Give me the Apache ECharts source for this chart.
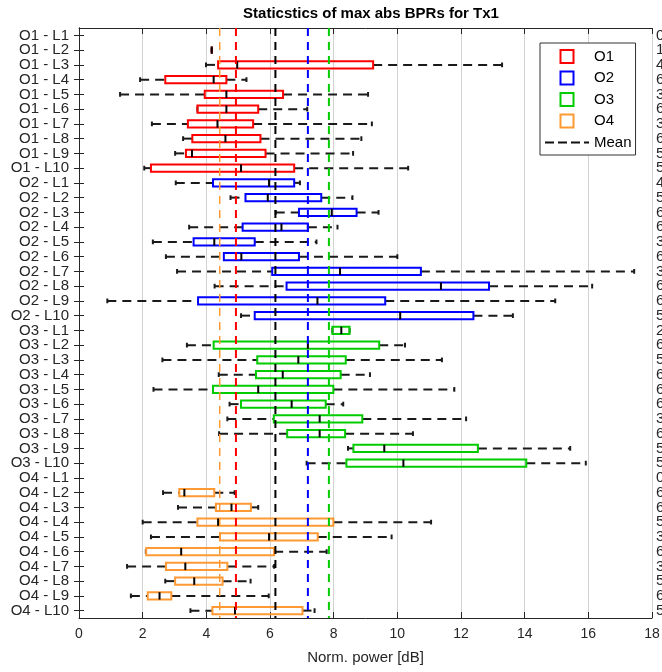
<!DOCTYPE html>
<html><head><meta charset="utf-8">
<script src="https://cdn.jsdelivr.net/npm/echarts@6/dist/echarts.min.js"></script>
<style>html,body{margin:0;padding:0;background:#fff}#c{width:662px;height:672px}</style>
</head><body><div id="c"></div>
<script>
// ---------------- data ----------------
const categories = [
  'O1 - L1','O1 - L2','O1 - L3','O1 - L4','O1 - L5','O1 - L6','O1 - L7','O1 - L8','O1 - L9','O1 - L10',
  'O2 - L1','O2 - L2','O2 - L3','O2 - L4','O2 - L5','O2 - L6','O2 - L7','O2 - L8','O2 - L9','O2 - L10',
  'O3 - L1','O3 - L2','O3 - L3','O3 - L4','O3 - L5','O3 - L6','O3 - L7','O3 - L8','O3 - L9','O3 - L10',
  'O4 - L1','O4 - L2','O4 - L3','O4 - L4','O4 - L5','O4 - L6','O4 - L7','O4 - L8','O4 - L9','O4 - L10'
];
const countLabels = [
  '0','1','4','6','3','6','3','6','5','5',
  '4','5','6','6','3','6','3','6','6','5',
  '2','6','5','6','6','6','3','6','5','5',
  '0','6','6','5','3','6','3','5','6','5'
];
const groupNames = ['O1','O2','O3','O4'];
// [whisker low, q1, median, q3, whisker high]
const o1Stats = [
  null,
  [4.17,4.17,4.17,4.17,4.17],
  [3.99,4.37,4.97,9.24,13.29],
  [1.92,2.71,4.23,4.63,5.26],
  [1.29,3.95,4.63,6.41,9.08],
  [3.72,3.72,4.63,5.63,7.17],
  [2.29,3.42,4.35,5.47,9.20],
  [3.27,3.56,4.60,5.70,8.87],
  [3.02,3.36,3.55,5.86,8.61],
  [2.05,2.26,5.09,6.76,10.34]
];
const o2Stats = [
  [3.04,4.21,5.97,6.76,6.94],
  [4.76,5.23,5.93,7.61,8.59],
  [6.18,6.91,7.94,8.72,9.41],
  [3.46,5.14,6.36,7.19,8.12],
  [2.32,3.60,4.25,5.52,7.46],
  [2.73,4.55,5.10,6.91,10.00],
  [3.08,6.07,8.20,10.74,17.44],
  [4.26,6.52,11.37,12.88,16.12],
  [0.89,3.74,7.49,9.62,14.96],
  [5.09,5.52,10.09,12.39,13.63]
];
const o3Stats = [
  [7.96,7.96,8.24,8.50,8.50],
  [3.39,4.23,7.19,9.43,10.24],
  [2.62,5.60,6.89,8.38,11.40],
  [4.39,5.56,6.40,8.22,9.14],
  [2.34,4.21,5.63,7.99,11.79],
  [4.73,5.09,6.68,7.75,8.30],
  [4.66,6.12,7.56,8.90,12.16],
  [4.40,6.54,7.56,8.36,10.49],
  [8.45,8.62,9.59,12.53,15.43],
  [7.15,8.40,10.19,14.05,15.92]
];
const o4Stats = [
  null,
  [2.64,3.15,3.31,4.25,4.89],
  [3.11,4.30,4.79,5.40,5.63],
  [2.00,3.72,4.37,7.99,11.06],
  [2.26,4.43,5.97,7.50,9.82],
  [2.10,2.11,3.21,6.13,7.78],
  [1.51,2.73,3.34,4.66,6.13],
  [2.71,3.02,3.62,4.51,5.39],
  [1.63,2.16,2.53,2.90,5.96],
  [3.50,4.19,4.90,7.02,7.40]
];
const groupMeans = [4.93, 7.19, 7.85, 4.42];
const overallMean = 6.17;
const xMin = 0, xMax = 18, xInterval = 2;

// ---------------- style ----------------
const groupColors = ['#ff0000', '#0000ff', '#00cc00', '#ff9933'];
const meanColors = ['#ff0000', '#0000ff', '#00cc00', '#ff9933', '#000000'];
const meanWidths = [2, 2, 2, 1.5, 2];
const FONT = '"Liberation Sans", Arial, Helvetica, sans-serif';
const AX = '#262626';

const allStats = [o1Stats, o2Stats, o3Stats, o4Stats];

function buildBoxData(stats, offset) {
  const out = [];
  stats.forEach((s, i) => { if (s) out.push([offset + i].concat(s)); });
  return out;
}

function boxRenderer(color) {
  return function (params, api) {
    const cat = api.value(0);
    const vals = [1, 2, 3, 4, 5].map(d => api.value(d));
    const pts = vals.map(v => api.coord([v, cat]));
    const band = api.size([0, 1])[1];
    const h = band * 0.5;
    const cap = band * 0.32;
    const y = pts[0][1];
    const [pLo, pQ1, pMed, pQ3, pHi] = pts.map(p => p[0]);
    const ch = [];
    const wStyle = { stroke: '#1a1a1a', lineWidth: 2, lineDash: [9, 6] };
    if (pQ1 - pLo > 0.5) ch.push({ type: 'line', shape: { x1: pLo, y1: y, x2: pQ1, y2: y }, style: wStyle });
    if (pHi - pQ3 > 0.5) ch.push({ type: 'line', shape: { x1: pQ3, y1: y, x2: pHi, y2: y }, style: wStyle });
    ch.push({ type: 'line', shape: { x1: pLo, y1: y - cap / 2, x2: pLo, y2: y + cap / 2 }, style: { stroke: '#1a1a1a', lineWidth: 2 } });
    ch.push({ type: 'line', shape: { x1: pHi, y1: y - cap / 2, x2: pHi, y2: y + cap / 2 }, style: { stroke: '#1a1a1a', lineWidth: 2 } });
    ch.push({ type: 'rect', shape: { x: pQ1, y: y - h / 2, width: pQ3 - pQ1, height: h },
      style: { fill: 'none', stroke: color, lineWidth: 2 } });
    ch.push({ type: 'line', shape: { x1: pMed, y1: y - h / 2, x2: pMed, y2: y + h / 2 },
      style: { stroke: '#000', lineWidth: 2 } });
    return { type: 'group', children: ch };
  };
}

function meanRenderer(params, api) {
  const x = api.coord([api.value(0), 0])[0];
  const idx = api.value(2);
  const cs = params.coordSys;
  return {
    type: 'line',
    shape: { x1: x, y1: cs.y, x2: x, y2: cs.y + cs.height },
    style: { stroke: meanColors[idx], lineWidth: meanWidths[idx], lineDash: [8, 6] }
  };
}

const series = groupNames.map((name, gi) => ({
  type: 'custom',
  name: name,
  renderItem: boxRenderer(groupColors[gi]),
  encode: { x: [1, 2, 3, 4, 5], y: 0 },
  itemStyle: { color: groupColors[gi] },
  data: buildBoxData(allStats[gi], gi * 10),
  z: 3
}));
series.push({
  type: 'custom',
  name: 'Mean',
  renderItem: meanRenderer,
  encode: { x: 0, y: 1 },
  itemStyle: { color: '#000' },
  data: groupMeans.map((m, i) => [m, 0, i]).concat([[overallMean, 0, 4]]),
  z: 4
});

const squareIcon = 'path://M0,0h10v10h-10z';
const dashIcon = 'path://M0,0h9v2h-9z M13,0h9v2h-9z M26,0h9v2h-9z M39,0h5v2h-5z';

const option = {
  backgroundColor: '#fff',
  animation: false,
  title: {
    text: 'Staticstics of max abs BPRs for Tx1',
    left: 366, top: 1, textAlign: 'center',
    textStyle: { fontFamily: FONT, fontSize: 15, fontWeight: 'bold', color: '#000' }
  },
  grid: { left: 79, right: 10, top: 28, bottom: 54, containLabel: false, outerBoundsMode: 'none' },
  legend: {
    orient: 'vertical', left: 540, top: 43,
    padding: [6, 4, 5, 5],
    itemWidth: 44, itemHeight: 13, itemGap: 6.5,
    backgroundColor: '#fff', borderColor: '#333', borderWidth: 1,
    selectedMode: false,
    textStyle: { fontFamily: FONT, fontSize: 15, color: '#000' },
    data: groupNames.map((n, i) => ({
      name: n, icon: squareIcon,
      itemStyle: { color: '#fff', borderColor: groupColors[i], borderWidth: 2 }
    })).concat([{ name: 'Mean', icon: dashIcon, itemStyle: { color: '#111', borderWidth: 0 } }])
  },
  xAxis: [{
    type: 'value', min: xMin, max: xMax, interval: xInterval, position: 'bottom',
    name: 'Norm. power [dB]', nameLocation: 'middle', nameGap: 32,
    nameTextStyle: { fontFamily: FONT, fontSize: 15, color: AX },
    axisLine: { show: true, lineStyle: { color: AX, width: 1 } },
    axisTick: { show: true, inside: true, length: 6, lineStyle: { color: AX } },
    axisLabel: { fontFamily: FONT, fontSize: 14, color: AX, margin: 9 },
    splitLine: { show: true, lineStyle: { color: '#d2d2d2', width: 1 } }
  }, {
    type: 'value', min: xMin, max: xMax, interval: xInterval, position: 'top',
    axisLine: { show: true, lineStyle: { color: AX, width: 1 } },
    axisTick: { show: true, inside: true, length: 6, lineStyle: { color: AX } },
    axisLabel: { show: false }, splitLine: { show: false }
  }],
  yAxis: [{
    type: 'category', data: categories, inverse: true, position: 'left',
    axisLine: { show: true, lineStyle: { color: AX, width: 1 } },
    axisTick: { show: true, inside: true, length: 5, alignWithLabel: true, lineStyle: { color: AX } },
    axisLabel: { fontFamily: FONT, fontSize: 15, color: AX, margin: 10, interval: 0 },
    splitLine: { show: false }
  }, {
    type: 'category', data: countLabels, inverse: true, position: 'right',
    axisLine: { show: true, lineStyle: { color: AX, width: 1 } },
    axisTick: { show: true, inside: true, length: 5, alignWithLabel: true, lineStyle: { color: AX } },
    axisLabel: { fontFamily: FONT, fontSize: 15, color: AX, margin: 4, interval: 0 },
    splitLine: { show: false }
  }],
  series: series
};

const chart = echarts.init(document.getElementById('c'), null, { renderer: 'canvas' });
chart.setOption(option);
</script>
</body></html>
